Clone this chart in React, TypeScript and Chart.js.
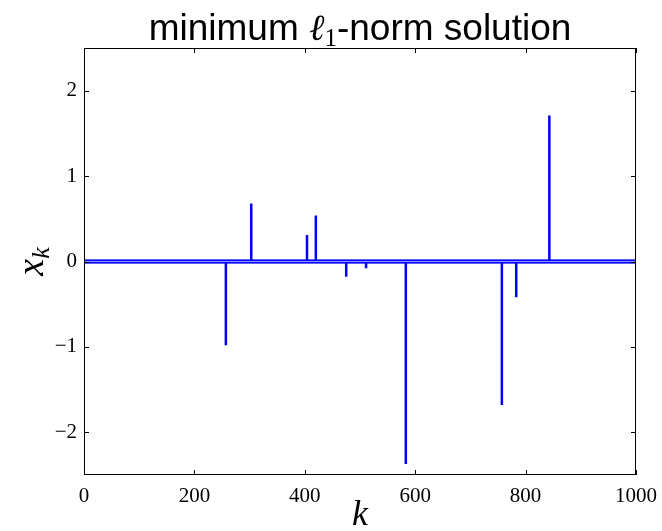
import React, { useEffect, useRef } from "react";
import { Chart, registerables } from "chart.js";

Chart.register(...registerables);

// ---- data ----
const SPIKE_K = [257, 303, 404, 420, 475, 511, 583, 757, 783, 843];
const SPIKE_X = [-0.98, 0.68, 0.31, 0.54, -0.18, -0.08, -2.37, -1.68, -0.42, 1.71];
const X_TICKS = [0, 200, 400, 600, 800, 1000];
const Y_TICKS = [-2, -1, 0, 1, 2];
const K_MIN = 0;
const K_MAX = 1000;
const Y_MIN = -2.5;
const Y_MAX = 2.5;

function buildSeries() {
  const pts: { x: number; y: number }[] = [{ x: K_MIN, y: 0 }];
  SPIKE_K.forEach((k, i) => {
    pts.push({ x: k, y: 0 }, { x: k, y: SPIKE_X[i] }, { x: k, y: 0 });
  });
  pts.push({ x: K_MAX, y: 0 });
  return pts;
}

const SERIF = "'Liberation Serif', 'DejaVu Serif', serif";
const SANS = "'Liberation Sans', Arial, sans-serif";

const decorPlugin = {
  id: "decor",
  afterDatasetsDraw(chart: any) {
    const { ctx, chartArea } = chart;
    const { left, right, top, bottom } = chartArea;
    const xs = chart.scales.x;
    const ys = chart.scales.y;
    ctx.save();
    // frame
    ctx.strokeStyle = "#000";
    ctx.lineWidth = 1;
    ctx.strokeRect(left + 0.5, top + 0.5, right - left - 1, bottom - top - 1);
    // inward ticks
    const tl = 5;
    ctx.beginPath();
    X_TICKS.forEach((v) => {
      const px = Math.round(xs.getPixelForValue(v)) + 0.5;
      ctx.moveTo(px, bottom);
      ctx.lineTo(px, bottom - tl);
      ctx.moveTo(px, top);
      ctx.lineTo(px, top + tl);
    });
    Y_TICKS.forEach((v) => {
      const py = Math.round(ys.getPixelForValue(v)) + 0.5;
      ctx.moveTo(left, py);
      ctx.lineTo(left + tl, py);
      ctx.moveTo(right, py);
      ctx.lineTo(right - tl, py);
    });
    ctx.stroke();

    // title: "minimum ℓ1-norm solution"
    const cx = (left + right) / 2;
    const titleBase = 40;
    const fMain = `37px ${SANS}`;
    const fEll = `italic 37px ${SERIF}`;
    const fSub = `25px ${SERIF}`;
    const parts = [
      { t: "minimum ", f: fMain, dy: 0 },
      { t: "\u2113", f: fEll, dy: 0 },
      { t: "1", f: fSub, dy: 6 },
      { t: "-norm solution", f: fMain, dy: 0 },
    ];
    let total = 0;
    parts.forEach((p) => {
      ctx.font = p.f;
      total += ctx.measureText(p.t).width;
    });
    let x0 = cx - total / 2;
    ctx.fillStyle = "#000";
    ctx.textBaseline = "alphabetic";
    ctx.textAlign = "left";
    parts.forEach((p) => {
      ctx.font = p.f;
      ctx.fillText(p.t, x0, titleBase + p.dy);
      x0 += ctx.measureText(p.t).width;
    });

    // x label "k"
    ctx.font = `italic 36px ${SERIF}`;
    ctx.textAlign = "center";
    ctx.fillText("k", cx, 525);

    // y label "x_k"
    const cy = (top + bottom) / 2;
    ctx.translate(43, cy);
    ctx.rotate(-Math.PI / 2);
    ctx.font = `italic 38px ${SERIF}`;
    const wx = ctx.measureText("x").width;
    ctx.font = `italic 26px ${SERIF}`;
    const wk = ctx.measureText("k").width;
    const start = -(wx + wk) / 2;
    ctx.textAlign = "left";
    ctx.font = `italic 38px ${SERIF}`;
    ctx.fillText("x", start, 0);
    ctx.font = `italic 26px ${SERIF}`;
    ctx.fillText("k", start + wx, 6);
    ctx.restore();
  },
};

export default function App() {
  const ref = useRef<HTMLCanvasElement | null>(null);
  useEffect(() => {
    if (!ref.current) return;
    const series = buildSeries();
    const baseline = [
      { x: K_MIN, y: 0 },
      { x: K_MAX, y: 0 },
    ];
    const chart = new Chart(ref.current, {
      type: "line",
      data: {
        datasets: [
          {
            label: "highlight",
            data: baseline,
            borderColor: "rgb(140,140,255)",
            borderWidth: 1.2,
            pointRadius: 0,
            order: 0,
          },
          {
            label: "x",
            data: series,
            borderColor: "rgb(0,0,255)",
            borderWidth: 2.5,
            pointRadius: 0,
            tension: 0,
            order: 1,
          },
          {
            label: "band",
            data: baseline,
            borderColor: "rgb(40,40,255)",
            borderWidth: 4.5,
            pointRadius: 0,
            order: 2,
          },
        ],
      },
      options: {
        animation: false,
        responsive: true,
        maintainAspectRatio: false,
        layout: { padding: { top: 48, right: 26, left: 0, bottom: 0 } },
        plugins: {
          legend: { display: false },
          tooltip: { enabled: false },
          title: { display: false },
        },
        scales: {
          x: {
            type: "linear",
            min: K_MIN,
            max: K_MAX,
            grid: { display: false, drawTicks: false },
            border: { display: false },
            afterBuildTicks: (s: any) => {
              s.ticks = X_TICKS.map((v) => ({ value: v }));
            },
            afterFit: (s: any) => {
              s.height = 56;
              s.paddingLeft = 0;
              s.paddingRight = 0;
            },
            ticks: {
              padding: 9,
              maxRotation: 0,
              autoSkip: false,
              color: "#000",
              font: { family: SERIF, size: 21 },
              callback: (v: any) => String(v),
            },
          },
          y: {
            type: "linear",
            min: Y_MIN,
            max: Y_MAX,
            grid: { display: false, drawTicks: false },
            border: { display: false },
            afterBuildTicks: (s: any) => {
              s.ticks = Y_TICKS.map((v) => ({ value: v }));
            },
            afterFit: (s: any) => {
              s.width = 84;
              s.paddingTop = 0;
              s.paddingBottom = 0;
            },
            ticks: {
              padding: 7,
              autoSkip: false,
              color: "#000",
              font: { family: SERIF, size: 21 },
              callback: (v: any) => (v < 0 ? "\u2212" + Math.abs(v) : String(v)),
            },
          },
        },
      },
      plugins: [decorPlugin],
    });
    return () => chart.destroy();
  }, []);
  return (
    <div style={{ position: "fixed", left: 0, top: 0, width: 662, height: 531, background: "#fff" }}>
      <canvas ref={ref} />
    </div>
  );
}
